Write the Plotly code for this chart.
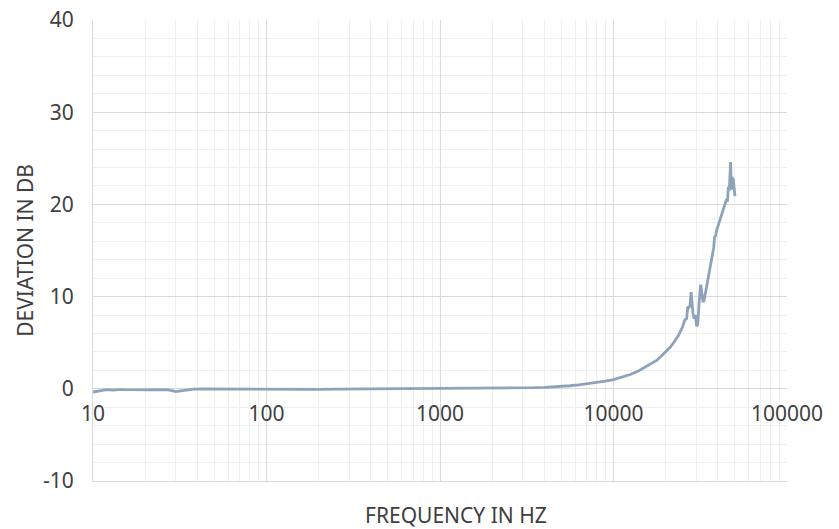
import plotly.graph_objects as go

freq_hz = [10, 11, 12, 13, 14, 15, 17, 19, 21, 23, 25, 27, 29, 30, 32, 35, 38, 42, 50, 60,
           70, 85, 100, 120, 150, 200, 250, 300, 400, 500, 600, 800, 1000, 1300, 1600, 2000,
           2500, 3000, 3500, 4000, 4500, 5000, 5600, 6300, 7100, 8000, 9000, 10000, 11200,
           12500, 14000, 16000, 17800, 19000, 20000, 21200, 22400, 23700, 25000, 25800,
           26400, 26800, 27200, 27600, 28000, 28300, 28700, 29200, 29700, 30100, 30600,
           31200, 31800, 32300, 32800, 33300, 34000, 35000, 36000, 37000, 37800, 38300,
           38700, 39300, 40500, 41800, 42900, 44000, 44900, 45400, 45900, 46500, 47000,
           47300, 47600, 47900, 48300, 48700, 49000, 49500, 50100]
deviation_db = [-0.35, -0.25, -0.1, -0.15, -0.08, -0.1, -0.12, -0.1, -0.12, -0.08, -0.1, -0.12,
                -0.22, -0.3, -0.22, -0.12, -0.04, -0.02, -0.03, -0.02, -0.03, -0.02, -0.03,
                -0.05, -0.03, -0.06, -0.04, -0.03, -0.02, -0.02, -0.01, 0.0, 0.0, 0.01, 0.02,
                0.03, 0.05, 0.08, 0.12, 0.16, 0.2, 0.26, 0.33, 0.42, 0.53, 0.66, 0.82, 1.0,
                1.25, 1.55, 1.95, 2.55, 3.1, 3.6, 4.0, 4.5, 5.1, 5.8, 6.7, 7.5, 7.6, 8.9, 8.8,
                9.0, 10.5, 9.0, 8.2, 7.6, 8.0, 6.8, 7.0, 9.5, 11.3, 10.4, 9.4, 9.6, 10.6, 11.6,
                12.9, 14.2, 15.3, 16.6, 16.5, 17.2, 18.0, 18.8, 19.4, 20.0, 20.6, 20.3, 21.9,
                21.5, 23.0, 24.6, 22.5, 21.6, 23.0, 22.6, 22.8, 21.5, 20.9]

x_tick_vals = [10, 100, 1000, 10000, 100000]
x_tick_text = ["10", "100", "1000", "10000", "100000"]
y_tick_vals = [-10, 0, 10, 20, 30, 40]
y_tick_text = ["-10", "0", "10", "20", "30", "40"]

FONT = "Noto Sans"
TXT = "#404040"
MAJOR = "#D9D9D9"
MINOR = "#EFEFEF"

fig = go.Figure()
fig.add_trace(go.Scatter(x=freq_hz, y=deviation_db, mode="lines",
                         line=dict(color="#8EA3BA", width=2.8), showlegend=False,
                         hoverinfo="x+y"))
fig.add_trace(go.Scatter(x=[], y=[], xaxis="x2", showlegend=False))

fig.update_layout(
    width=839, height=529,
    margin=dict(l=93, r=52, t=20, b=48, autoexpand=False),
    paper_bgcolor="white", plot_bgcolor="white",
    font=dict(family=FONT, size=21, color=TXT),
    xaxis=dict(type="log", range=[1, 5], tickvals=x_tick_vals, showticklabels=False,
               automargin=False,
               showgrid=True, gridcolor=MAJOR, gridwidth=1, zeroline=False,
               showline=True, linecolor=MAJOR, linewidth=1, mirror=False, ticks="",
               minor=dict(dtick="D1", showgrid=True, gridcolor=MINOR, gridwidth=1)),
    xaxis2=dict(type="log", range=[1, 5], overlaying="x", anchor="free", position=0.2,
                side="bottom", tickvals=x_tick_vals, ticktext=x_tick_text, automargin=False,
                showgrid=False, zeroline=False, showline=False, ticklabeloverflow="allow",
                ticks="outside", ticklen=6, tickcolor="rgba(0,0,0,0)",
                tickfont=dict(family=FONT, size=21, color=TXT)),
    yaxis=dict(range=[-10, 40], tickvals=y_tick_vals, ticktext=y_tick_text,
               showgrid=True, gridcolor=MAJOR, automargin=False, ticklabeloverflow="allow",
               zeroline=False, showline=True, linecolor=MAJOR, linewidth=1,
               ticks="outside", ticklen=14, tickcolor="rgba(0,0,0,0)",
               tickfont=dict(family=FONT, size=21, color=TXT),
               minor=dict(dtick=2, showgrid=True, gridcolor=MINOR, gridwidth=1)),
    annotations=[
        dict(text="FREQUENCY IN HZ", xref="paper", yref="paper", x=0.523, y=-0.074,
             xanchor="center", yanchor="middle", showarrow=False,
             font=dict(family=FONT, size=21, color=TXT)),
        dict(text="DEVIATION IN DB", xref="paper", yref="paper", x=-0.099, y=0.5,
             xanchor="center", yanchor="middle", textangle=-90, showarrow=False,
             font=dict(family=FONT, size=21, color=TXT)),
    ],
)

fig.write_html("out.html", config={"displayModeBar": False},
               post_script="document.body.style.margin='0';document.body.style.padding='0';")
